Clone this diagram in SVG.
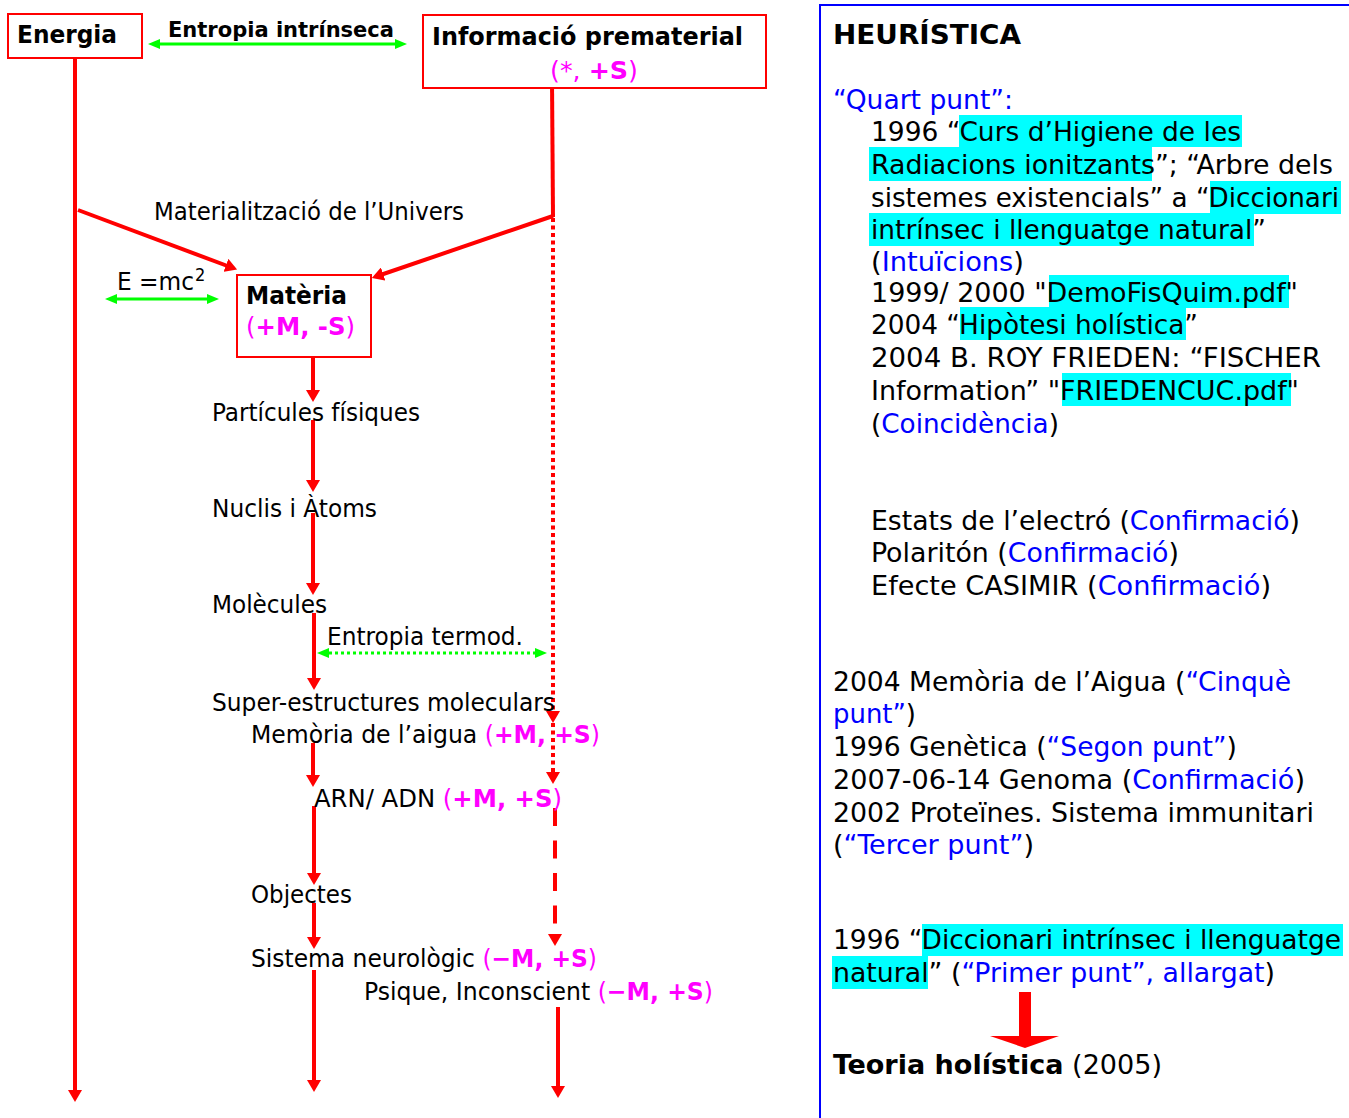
<svg xmlns="http://www.w3.org/2000/svg" width="1349" height="1118" viewBox="0 0 1349 1118">
<style>
text{font-family:"DejaVu Sans Condensed","DejaVu Sans",Verdana,sans-serif;fill:#000}
.b{font-weight:bold}
.m{fill:#FF00FF}
.bl{fill:#0000FF}
.l{font-size:24.5px}
.r{font-size:26.5px}
.box{fill:#fff;stroke:#FF0000;stroke-width:2}
.red{stroke:#FF0000;stroke-width:4;fill:none}
.dot{stroke:#FF0000;stroke-width:4;fill:none;stroke-dasharray:4 3.5}
.dash{stroke:#FF0000;stroke-width:4;fill:none;stroke-dasharray:18 14.5}
.grn{stroke:#00FF00;stroke-width:3;fill:none}
.gdot{stroke:#00FF00;stroke-width:3;fill:none;stroke-dasharray:3 3}
.hl{fill:#00FFFF}
</style>
<defs>
<marker id="ar" viewBox="0 0 12 14" markerWidth="12" markerHeight="14" refX="6" refY="7" orient="auto" markerUnits="userSpaceOnUse"><path d="M0,0 L12,7 L0,14 Z" fill="#FF0000"/></marker>
<marker id="ag" viewBox="0 0 12 10" markerWidth="12" markerHeight="10" refX="6" refY="5" orient="auto-start-reverse" markerUnits="userSpaceOnUse"><path d="M0,0 L12,5 L0,10 Z" fill="#00FF00"/></marker>
</defs>
<rect width="1349" height="1118" fill="#fff"/>

<g id="connectors">
<line class="red" x1="75" y1="53" x2="75" y2="1096" marker-end="url(#ar)"/>
<line class="red" x1="552" y1="80" x2="553" y2="217"/>
<line class="red" x1="78" y1="210" x2="231.5" y2="267.5" marker-end="url(#ar)"/>
<line class="red" x1="553" y1="216" x2="377.5" y2="276" marker-end="url(#ar)"/>
<line class="dot" x1="553" y1="218" x2="553" y2="717" marker-end="url(#ar)"/>
<line class="dot" x1="553" y1="723" x2="553" y2="778" marker-end="url(#ar)"/>
<line class="dash" x1="555" y1="808" x2="555" y2="940" marker-end="url(#ar)"/>
<line class="red" x1="558" y1="1007" x2="558" y2="1092" marker-end="url(#ar)"/>
<line class="red" x1="313" y1="357" x2="313" y2="396" marker-end="url(#ar)"/>
<line class="red" x1="313" y1="420" x2="313" y2="486" marker-end="url(#ar)"/>
<line class="red" x1="313" y1="513" x2="313" y2="589" marker-end="url(#ar)"/>
<line class="red" x1="314" y1="613" x2="314" y2="684" marker-end="url(#ar)"/>
<line class="red" x1="313" y1="743" x2="313" y2="781" marker-end="url(#ar)"/>
<line class="red" x1="314" y1="806" x2="314" y2="879" marker-end="url(#ar)"/>
<line class="red" x1="314" y1="903" x2="314" y2="943" marker-end="url(#ar)"/>
<line class="red" x1="314" y1="970" x2="314" y2="1086" marker-end="url(#ar)"/>
<line class="grn" x1="154" y1="44" x2="401" y2="44" marker-start="url(#ag)" marker-end="url(#ag)"/>
<line class="grn" x1="111" y1="299" x2="213" y2="299" marker-start="url(#ag)" marker-end="url(#ag)"/>
<line class="gdot" x1="323" y1="653" x2="541" y2="653" marker-start="url(#ag)" marker-end="url(#ag)"/>
</g>

<g id="energia">
<rect class="box" x="8" y="14" width="134" height="44"/>
<text class="b" x="17" y="43" font-size="25.5" textLength="100" lengthAdjust="spacingAndGlyphs">Energia</text>
</g>
<g id="entropia-intrinseca">
<text class="b" x="168" y="37" font-size="22" textLength="226" lengthAdjust="spacingAndGlyphs">Entropia intrínseca</text>
</g>
<g id="informacio">
<rect class="box" x="423" y="15" width="343" height="73"/>
<text class="b" x="432" y="45" font-size="25.5" textLength="311" lengthAdjust="spacingAndGlyphs">Informació prematerial</text>
<text class="m" x="550" y="79" font-size="25.5" textLength="88" lengthAdjust="spacingAndGlyphs">(*, <tspan class="b m">+S</tspan>)</text>
</g>
<g id="materialitzacio">
<text class="l" x="154" y="220" textLength="310" lengthAdjust="spacingAndGlyphs">Materialització de l’Univers</text>
</g>
<g id="emc2">
<text class="l" x="117" y="290" textLength="77" lengthAdjust="spacingAndGlyphs">E =mc</text>
<text x="195" y="281" font-size="18">2</text>
</g>
<g id="materia">
<rect class="box" x="237" y="275" width="134" height="82"/>
<text class="b" x="246" y="304" font-size="25.5" textLength="101" lengthAdjust="spacingAndGlyphs">Matèria</text>
<text class="m" x="246" y="335" font-size="25.5" textLength="109" lengthAdjust="spacingAndGlyphs">(<tspan class="b m">+M, -S</tspan>)</text>
</g>
<g id="particules"><text class="l" x="212" y="421" textLength="208" lengthAdjust="spacingAndGlyphs">Partícules físiques</text></g>
<g id="nuclis"><text class="l" x="212" y="517" textLength="165" lengthAdjust="spacingAndGlyphs">Nuclis i Àtoms</text></g>
<g id="molecules"><text class="l" x="212" y="613" textLength="115" lengthAdjust="spacingAndGlyphs">Molècules</text></g>
<g id="entropia-termod"><text class="l" x="327" y="645" textLength="196" lengthAdjust="spacingAndGlyphs">Entropia termod.</text></g>
<g id="super-estructures"><text class="l" x="212" y="711" textLength="343" lengthAdjust="spacingAndGlyphs">Super-estructures moleculars</text></g>
<g id="memoria-aigua"><text class="l" x="251" y="743" textLength="349" lengthAdjust="spacingAndGlyphs">Memòria de l’aigua <tspan class="m">(</tspan><tspan class="b m">+M, +S</tspan><tspan class="m">)</tspan></text></g>
<g id="arn-adn"><text class="l" x="314" y="807" textLength="248" lengthAdjust="spacingAndGlyphs">ARN/ ADN <tspan class="m">(</tspan><tspan class="b m">+M, +S</tspan><tspan class="m">)</tspan></text></g>
<g id="objectes"><text class="l" x="251" y="903" textLength="101" lengthAdjust="spacingAndGlyphs">Objectes</text></g>
<g id="sistema-neurologic"><text class="l" x="251" y="967" textLength="346" lengthAdjust="spacingAndGlyphs">Sistema neurològic <tspan class="m">(</tspan><tspan class="b m">−M, +S</tspan><tspan class="m">)</tspan></text></g>
<g id="psique"><text class="l" x="364" y="1000" textLength="349" lengthAdjust="spacingAndGlyphs">Psique, Inconscient <tspan class="m">(</tspan><tspan class="b m">−M, +S</tspan><tspan class="m">)</tspan></text></g>

<g id="heuristica">
<rect x="820" y="5" width="560" height="1130" fill="none" stroke="#0000FF" stroke-width="2"/>
<rect class="hl" x="959" y="115" width="283" height="32"/>
<rect class="hl" x="869" y="147" width="283" height="34"/>
<rect class="hl" x="1210" y="181" width="131" height="33"/>
<rect class="hl" x="869" y="213" width="385" height="33"/>
<rect class="hl" x="1049" y="275" width="240" height="33"/>
<rect class="hl" x="960" y="307" width="226" height="33"/>
<rect class="hl" x="1062" y="373" width="229" height="33"/>
<rect class="hl" x="922" y="924" width="421" height="32"/>
<rect class="hl" x="832" y="956" width="96" height="33"/>
<text class="b" x="833" y="44" font-size="26.5" textLength="188" lengthAdjust="spacingAndGlyphs">HEURÍSTICA</text>
<text class="r bl" x="833" y="109" textLength="180" lengthAdjust="spacingAndGlyphs">“Quart punt”:</text>
<text class="r" x="871" y="141" textLength="370" lengthAdjust="spacingAndGlyphs">1996 “Curs d’Higiene de les</text>
<text class="r" x="871" y="174" textLength="462" lengthAdjust="spacingAndGlyphs">Radiacions ionitzants”; “Arbre dels</text>
<text class="r" x="871" y="207" textLength="468" lengthAdjust="spacingAndGlyphs">sistemes existencials” a “Diccionari</text>
<text class="r" x="871" y="239" textLength="395" lengthAdjust="spacingAndGlyphs">intrínsec i llenguatge natural”</text>
<text class="r" x="871" y="271" textLength="153" lengthAdjust="spacingAndGlyphs">(<tspan class="bl">Intuïcions</tspan>)</text>
<text class="r" x="871" y="302" textLength="427" lengthAdjust="spacingAndGlyphs">1999/ 2000 "DemoFisQuim.pdf"</text>
<text class="r" x="871" y="334" textLength="327" lengthAdjust="spacingAndGlyphs">2004 “Hipòtesi holística”</text>
<text class="r" x="871" y="367" textLength="450" lengthAdjust="spacingAndGlyphs">2004 B. ROY FRIEDEN: “FISCHER</text>
<text class="r" x="871" y="400" textLength="428" lengthAdjust="spacingAndGlyphs">Information” "FRIEDENCUC.pdf"</text>
<text class="r" x="871" y="433" textLength="188" lengthAdjust="spacingAndGlyphs">(<tspan class="bl">Coincidència</tspan>)</text>
<text class="r" x="871" y="530" textLength="429" lengthAdjust="spacingAndGlyphs">Estats de l’electró (<tspan class="bl">Confirmació</tspan>)</text>
<text class="r" x="871" y="562" textLength="308" lengthAdjust="spacingAndGlyphs">Polaritón (<tspan class="bl">Confirmació</tspan>)</text>
<text class="r" x="871" y="595" textLength="400" lengthAdjust="spacingAndGlyphs">Efecte CASIMIR (<tspan class="bl">Confirmació</tspan>)</text>
<text class="r" x="833" y="691" textLength="458" lengthAdjust="spacingAndGlyphs">2004 Memòria de l’Aigua (<tspan class="bl">“Cinquè</tspan></text>
<text class="r" x="833" y="723" textLength="83" lengthAdjust="spacingAndGlyphs"><tspan class="bl">punt”</tspan>)</text>
<text class="r" x="833" y="756" textLength="404" lengthAdjust="spacingAndGlyphs">1996 Genètica (<tspan class="bl">“Segon punt”</tspan>)</text>
<text class="r" x="833" y="789" textLength="472" lengthAdjust="spacingAndGlyphs">2007-06-14 Genoma (<tspan class="bl">Confirmació</tspan>)</text>
<text class="r" x="833" y="822" textLength="481" lengthAdjust="spacingAndGlyphs">2002 Proteïnes. Sistema immunitari</text>
<text class="r" x="833" y="854" textLength="201" lengthAdjust="spacingAndGlyphs">(<tspan class="bl">“Tercer punt”</tspan>)</text>
<text class="r" x="833" y="949" textLength="508" lengthAdjust="spacingAndGlyphs">1996 “Diccionari intrínsec i llenguatge</text>
<text class="r" x="833" y="982" textLength="442" lengthAdjust="spacingAndGlyphs">natural” (<tspan class="bl">“Primer punt”, allargat</tspan>)</text>
<path d="M1019,992 L1031,992 L1031,1036 L1059,1036 L1025,1048 L990,1036 L1019,1036 Z" fill="#FF0000"/>
<text class="r" x="833" y="1074" textLength="329" lengthAdjust="spacingAndGlyphs"><tspan class="b">Teoria holística</tspan> (2005)</text>
</g>
</svg>
